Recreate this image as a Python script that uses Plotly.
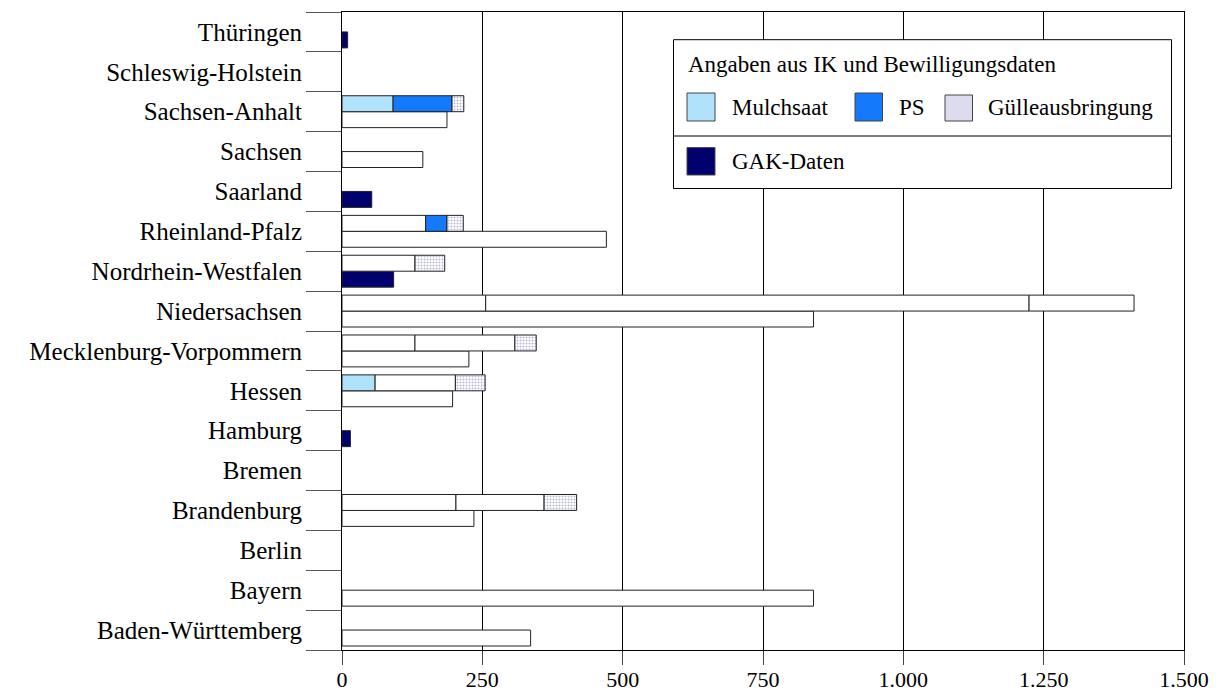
import plotly.graph_objects as go

# ---------------- data ----------------
states = ["Baden-Württemberg", "Bayern", "Berlin", "Brandenburg", "Bremen", "Hamburg",
          "Hessen", "Mecklenburg-Vorpommern", "Niedersachsen", "Nordrhein-Westfalen",
          "Rheinland-Pfalz", "Saarland", "Sachsen", "Sachsen-Anhalt",
          "Schleswig-Holstein", "Thüringen"]
mulchsaat = [None, None, None, 203, None, None, 59, 130, 256, 130, 149, None, None, 91, None, None]
ps        = [None, None, None, 157, None, None, 143, 178, 968, None, 38, None, None, 105, None, None]
guelle    = [None, None, None, 58, None, None, 53, 38, 187, 53, 29, None, None, 21, None, None]
gak       = [336, 840, None, 235, None, 15, 197, 226, 840, 92, 471, 53, 144, 187, None, 10]
x_tickvals = [0, 250, 500, 750, 1000, 1250, 1500]
x_ticktext = ["0", "250", "500", "750", "1.000", "1.250", "1.500"]

legend_title = "Angaben aus IK und Bewilligungsdaten"
name_mulch, name_ps, name_guelle, name_gak = "Mulchsaat", "PS", "Gülleausbringung", "GAK-Daten"

# ---------------- styles ----------------
LIGHT, BLUE, NAVY, WHITE = "#b0e2fc", "#1479fb", "#00006e", "#ffffff"
EDGE = "#222222"
mulch_filled = {"Hessen", "Sachsen-Anhalt"}
ps_filled = {"Rheinland-Pfalz", "Sachsen-Anhalt"}
guelle_plain = {"Niedersachsen"}
gak_filled = {"Hamburg", "Nordrhein-Westfalen", "Saarland", "Thüringen"}

def nz(v):
    return v if v is not None else 0

base_mu = [0 for _ in states]
base_ps = [nz(m) for m in mulchsaat]
base_gu = [nz(m) + nz(p) for m, p in zip(mulchsaat, ps)]

fig = go.Figure()
fig.add_trace(go.Bar(
    y=states, x=gak, orientation="h", offsetgroup="gak", name=name_gak,
    marker=dict(color=[NAVY if s in gak_filled else WHITE for s in states],
                line=dict(color=EDGE, width=1))))
fig.add_trace(go.Bar(
    y=states, x=mulchsaat, orientation="h", offsetgroup="ik", base=base_mu,
    name=name_mulch,
    marker=dict(color=[LIGHT if s in mulch_filled else WHITE for s in states],
                line=dict(color=EDGE, width=1))))
fig.add_trace(go.Bar(
    y=states, x=ps, orientation="h", offsetgroup="ik", base=base_ps, name=name_ps,
    marker=dict(color=[BLUE if s in ps_filled else WHITE for s in states],
                line=dict(color=EDGE, width=1))))
fig.add_trace(go.Bar(
    y=states, x=guelle, orientation="h", offsetgroup="ik", base=base_gu, name=name_guelle,
    marker=dict(color=WHITE,
                pattern=dict(shape=["" if s in guelle_plain else "." for s in states],
                             fgcolor="#7070b8", bgcolor=WHITE, size=3, solidity=0.35),
                line=dict(color=EDGE, width=1))))

# ---------------- layout ----------------
W, H = 1229, 696
L, R, T, B = 342, 45, 12, 46
FONT = "Liberation Serif, Times New Roman, serif"

def px(X):
    return (X - L) / (W - L - R)

def py(Y):
    return (H - B - Y) / (H - T - B)

shapes, annotations = [], []
# legend box
shapes.append(dict(type="rect", xref="paper", yref="paper", layer="above",
                   x0=px(673.5), x1=px(1171.5), y0=py(188.5), y1=py(39.7),
                   fillcolor=WHITE, line=dict(color="black", width=1)))
shapes.append(dict(type="line", xref="paper", yref="paper", layer="above",
                   x0=px(673.5), x1=px(1171.5), y0=py(136), y1=py(136),
                   line=dict(color="black", width=1)))
swatches = [
    (687, 715, 93, 121, LIGHT, name_mulch, 729.6, 107),
    (855, 882.5, 93, 121, BLUE, name_ps, 896.7, 107),
    (945, 972.5, 95, 121, "#dcdcee", name_guelle, 986, 107),
    (687, 715, 147.6, 175, NAVY, name_gak, 729.6, 161),
]
for x0, x1, y0, y1, col, label, tx, ty in swatches:
    shapes.append(dict(type="rect", xref="paper", yref="paper", layer="above",
                       x0=px(x0), x1=px(x1), y0=py(y1), y1=py(y0),
                       fillcolor=col, line=dict(color="#444444", width=1)))
    annotations.append(dict(xref="paper", yref="paper", x=px(tx), y=py(ty),
                            xanchor="left", yanchor="middle", text=label,
                            showarrow=False, font=dict(family=FONT, size=23, color="black")))
annotations.append(dict(xref="paper", yref="paper", x=px(686), y=py(64.6),
                        xanchor="left", yanchor="middle", text=legend_title,
                        showarrow=False, font=dict(family=FONT, size=23, color="black")))

fig.update_layout(
    width=W, height=H,
    margin=dict(l=L, r=R, t=T, b=B, pad=0, autoexpand=False),
    paper_bgcolor="white", plot_bgcolor="white",
    font=dict(family=FONT, color="black"),
    barmode="group", bargap=0.2, bargroupgap=0,
    showlegend=False,
    shapes=shapes, annotations=annotations,
    xaxis=dict(range=[0, 1500], tickvals=x_tickvals, ticktext=x_ticktext,
               showgrid=True, gridcolor="black", gridwidth=1, zeroline=False,
               showline=True, linecolor="black", linewidth=1, mirror=True,
               ticks="outside", ticklen=14, tickcolor="#444444",
               ticklabelstandoff=-4, automargin=False,
               tickfont=dict(family=FONT, size=22, color="black")),
    yaxis=dict(type="category", categoryorder="array", categoryarray=states,
               range=[-0.5, len(states) - 0.5], tickson="boundaries",
               ticks="outside", ticklen=35, tickcolor="#555555",
               ticklabelstandoff=34, automargin=False,
               showgrid=False, zeroline=False,
               showline=True, linecolor="black", linewidth=1, mirror=True,
               tickfont=dict(family=FONT, size=25, color="black")),
)

fig.write_html("out.html", post_script="document.body.style.margin='0';",
               config={"displayModeBar": False})
